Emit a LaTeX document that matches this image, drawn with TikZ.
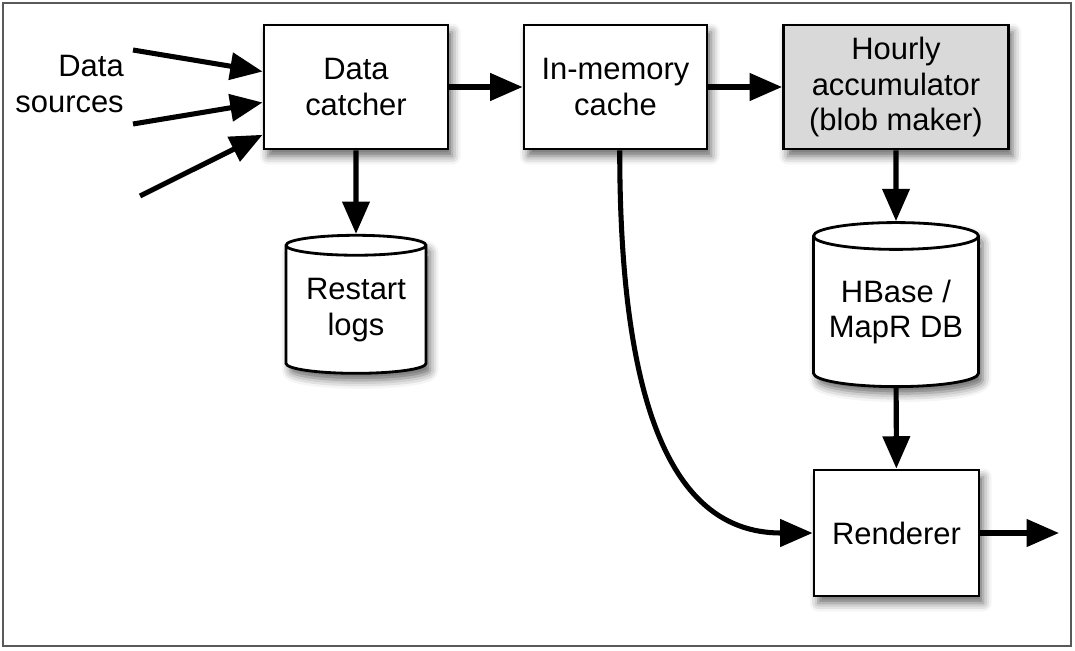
\documentclass[tikz,border=0pt]{standalone}
\usepackage{fontspec}
\setmainfont{Liberation Sans}
\usetikzlibrary{arrows.meta,shapes.geometric,shadows.blur}
\tikzset{box/.style={draw=black,line width=2pt,fill=white,align=center,inner sep=0pt,blur shadow={shadow xshift=3pt,shadow yshift=-5pt,shadow blur radius=6pt,shadow opacity=60}},store/.style={box,cylinder,shape border rotate=90,aspect=0.2},flow/.style={-{Triangle[length=23pt,width=19pt]},line width=3.6pt},lab/.style={align=right,inner sep=0pt}}
\begin{document}
\begin{tikzpicture}[x=.025cm,y=-.025cm,font=\fontsize{22}{25}\selectfont]
\useasboundingbox (0,0) rectangle (1075,650);
\draw[black!65,line width=1.2pt] (3,3) rectangle (1071,646);
\node[box,minimum width=4.6cm,minimum height=3.1cm] (catcher) at (356,87) {Data\\catcher};
\node[box,minimum width=4.575cm,minimum height=3.1cm] (cache) at (615.5,87) {In-memory\\cache};
\node[box,fill=black!15,minimum width=5.625cm,minimum height=3.1cm] (accum) at (896,87) {Hourly\\accumulator\\(blob maker)};
\node[store,minimum width=3.5cm,minimum height=3.45cm] (logs) at (356,310) {Restart\\logs};
\node[store,minimum width=4.125cm,minimum height=4.1cm] (hbase) at (896,312) {HBase /\\MapR DB};
\node[box,minimum width=4.125cm,minimum height=3.15cm] (render) at (896.5,533) {Renderer};
\node[lab,anchor=east] (src) at (124,84) {Data\\sources};
\coordinate (s1) at (133,50);
\coordinate (s2) at (133,124);
\coordinate (s3) at (140,196);
\coordinate (out) at (1059,533);
\draw[flow] (s1) -- ([yshift=11pt]catcher.west);
\draw[flow] (s2) -- ([yshift=-11pt]catcher.west);
\draw[flow] (s3) -- ([yshift=-34pt]catcher.west);
\draw[flow] (catcher) -- (cache);
\draw[flow] (cache) -- (accum);
\draw[flow] (catcher) -- (logs);
\draw[flow] (accum) -- (hbase);
\draw[flow] (hbase) -- (render);
\draw[flow] ([xshift=3pt]cache.south) .. controls +(0,310) and +(-115,0) .. (render.west);
\draw[flow] (render) -- (out);
\end{tikzpicture}
\end{document}
